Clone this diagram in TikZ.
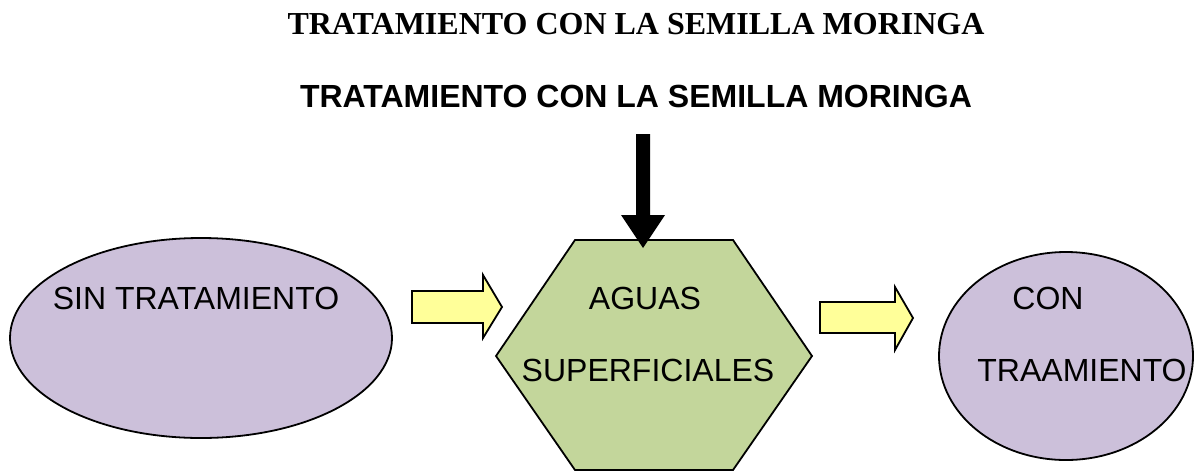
\documentclass[tikz,border=0pt]{standalone}
\usepackage{fontspec}
\setmainfont{Liberation Sans}
\newfontfamily\titulofont{Liberation Serif}
\usepackage{tikz}
\usetikzlibrary{shapes,arrows}

\definecolor{lila}{HTML}{CCC0DA}
\definecolor{verde}{HTML}{C3D69B}
\definecolor{amarillo}{HTML}{FFFF99}

\begin{document}
\begin{tikzpicture}
		[
		x = 0.5pt, y = -0.5pt,
		ovalo/.style = {draw, ellipse, fill = lila, line width = 0.9pt, inner sep = 0pt},
		hexagono/.style = {draw, fill = verde, line width = 0.9pt},
		flecha/.style = {draw, fill = amarillo, line width = 0.9pt},
		texto/.style = {font = \fontsize{16}{19}\selectfont, inner sep = 0pt}
		]
		
		\useasboundingbox (0,0) rectangle (1194,472);
		
		% titulos
		\node (titulo1) at (636,24) {\titulofont\bfseries\fontsize{16}{19}\selectfont TRATAMIENTO CON LA SEMILLA MORINGA};
		\node (titulo2) at (636,96) {\bfseries\fontsize{16}{19}\selectfont TRATAMIENTO CON LA SEMILLA MORINGA};
		
		% figuras
		\node [ovalo, minimum width = 191pt, minimum height = 100pt] (sin) at (201,338) {};
		\node [ovalo, minimum width = 127pt, minimum height = 104pt] (con) at (1066,356) {};
		\draw [hexagono] (575,240) -- (733,240) -- (812,356) -- (733,470)
			-- (575,470) -- (496,356) -- cycle;
		\coordinate (hex) at (654,356);
		
		% flechas
		\draw [flecha] (412,291) -- (483,291) -- (483,275) -- (502,307)
			-- (483,338) -- (483,323) -- (412,323) -- cycle;
		\draw [flecha] (820,302) -- (895,302) -- (895,287) -- (913,318)
			-- (895,350) -- (895,333) -- (820,333) -- cycle;
		\fill [black] (636,134) -- (650,134) -- (650,215) -- (665,215)
			-- (643,248) -- (621,215) -- (636,215) -- cycle;
		
		% textos
		\node [texto] (sintexto) at (196,298) {SIN TRATAMIENTO};
		\node [texto] (aguas) at (645,298) {AGUAS};
		\node [texto] (superficiales) at (648,370) {SUPERFICIALES};
		\node [texto] (contexto) at (1048,298) {CON};
		\node [texto] (traamiento) at (1082,370) {TRAAMIENTO};
		
		\end{tikzpicture}
\end{document}
